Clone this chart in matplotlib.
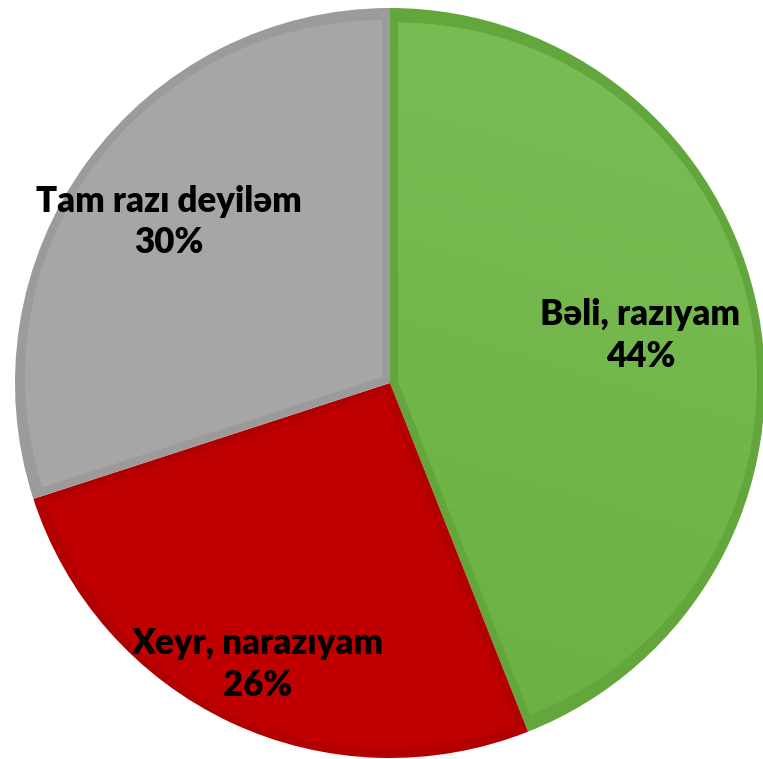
import numpy as np
import matplotlib
matplotlib.use("Agg")
import matplotlib.pyplot as plt
from matplotlib.patches import Wedge
from matplotlib.colors import LinearSegmentedColormap

# data
categories = ["Bəli, razıyam", "Xeyr, narazıyam", "Tam razı deyiləm"]
shares = [44, 26, 30]
pct_labels = ["44%", "26%", "30%"]

fill_colors = ["#71b64a", "#c00000", "#a6a6a6"]
edge_colors = ["#62a63c", "#b20000", "#9b9b9b"]
label_dist = [0.68, 0.83, 0.73]

W, H = 763, 759
fig = plt.figure(figsize=(W / 100, H / 100), dpi=100)
# pie centre at (390, 383) px from top-left, radius 375 px
cx, cy, r = 390, 383, 375
ax = fig.add_axes([(cx - r) / W, (H - cy - r) / H, 2 * r / W, 2 * r / H])

# outer pie in the darker border colour
wedges, _ = ax.pie(shares, colors=edge_colors, startangle=90, counterclock=False,
                   radius=1, center=(0, 0), frame=True,
                   wedgeprops=dict(linewidth=0))
ax.set_xlim(-1, 1)
ax.set_ylim(-1, 1)
ax.set_aspect("equal")
ax.axis("off")

# inset wedges in the fill colour -> border of ~8 px inside every slice
d = 8 / r
inner = []
for w, fc in zip(wedges, fill_colors):
    half = np.deg2rad(abs(w.theta2 - w.theta1) / 2)
    mid = np.deg2rad((w.theta1 + w.theta2) / 2)
    shift = d / np.sin(half)
    c = (shift * np.cos(mid), shift * np.sin(mid))
    iw = Wedge(c, 1 - d - shift, w.theta1, w.theta2, facecolor=fc, linewidth=0, zorder=2)
    ax.add_patch(iw)
    inner.append(iw)

# soft gradient on the green slice (slightly lighter towards the top)
g = LinearSegmentedColormap.from_list("g", ["#69ad3f", "#71b64a", "#7bbd57"])
yy, xx = np.mgrid[-1:1:300j, -1:1:300j]
img = ax.imshow(xx * 0.3 + yy, extent=(-1, 1, -1, 1), origin="lower", cmap=g, zorder=2.5)
img.set_clip_path(inner[0])

for w, cat, pct, dist in zip(wedges, categories, pct_labels, label_dist):
    ang = np.deg2rad((w.theta1 + w.theta2) / 2)
    x, y = dist * np.cos(ang), dist * np.sin(ang)
    ax.text(x, y, cat + "\n" + pct, ha="center", va="center", fontsize=25,
            fontweight="heavy", family=["Lato", "DejaVu Sans"], color="black",
            linespacing=1.32, zorder=5)

fig.savefig("out.png", dpi=100)
